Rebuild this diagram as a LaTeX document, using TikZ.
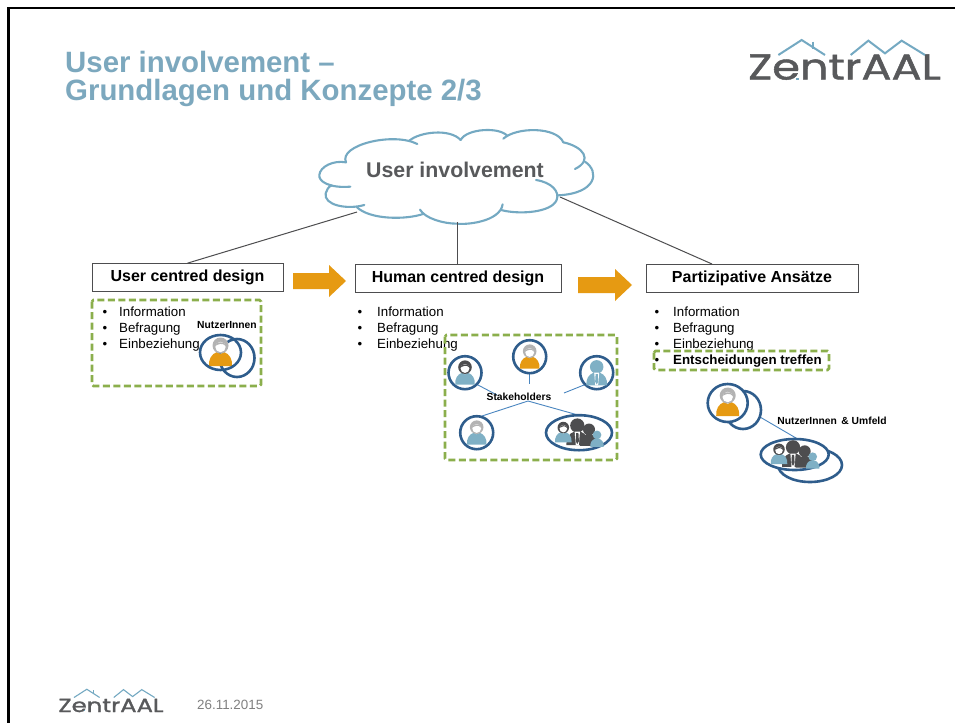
\documentclass[tikz,border=0pt]{standalone}
\usepackage{fontspec}
\setmainfont{Liberation Sans}
\newfontfamily\logofont[FakeBold=1.2]{Poppins}
\definecolor{titleblue}{HTML}{7CA8BE}
\definecolor{cloudblue}{HTML}{74A9C2}
\definecolor{ringblue}{HTML}{2F5D8C}
\definecolor{linkblue}{HTML}{4A86C0}
\definecolor{orangeM}{HTML}{E69A12}
\definecolor{dashgreen}{HTML}{8BAF4C}
\definecolor{headgrey}{HTML}{B3B3B3}
\definecolor{darkgrey}{HTML}{4D4D4F}
\definecolor{bodyblue}{HTML}{7FB0C5}
\definecolor{logogrey}{HTML}{58595B}
\tikzset{
  blackframe/.style={line width=2.6pt,black},
  titletext/.style={anchor=base west,inner sep=0,font=\fontsize{29.4}{30}\selectfont\bfseries,text=titleblue},
  cloudline/.style={cloudblue,line width=2.1pt,line cap=round},
  linkgrey/.style={draw=darkgrey,line width=1pt},
  conceptbox/.style={draw=darkgrey,line width=.7pt,minimum height=28pt,inner sep=0,font=\fontsize{16}{18}\selectfont\bfseries,fill=white},
  bigarrow/.style={fill=orangeM,draw=none},
  bullet/.style={anchor=base,inner sep=0,font=\fontsize{13.2}{15}\selectfont},
  itemtext/.style={anchor=base west,inner sep=0,font=\fontsize{13.3}{15}\selectfont},
  greenbox/.style={draw=dashgreen,line width=2.6pt,dash pattern=on 7pt off 3.5pt,rounded corners=1.5pt},
  ring/.style={draw=ringblue,line width=2.6pt},
  thinlink/.style={linkblue,line width=.9pt},
  smalllabel/.style={inner sep=0,font=\fontsize{10.3}{12}\selectfont\bfseries},
}
% person icon: #1 x, #2 y, #3 scale, #4 body, #5 head ring
\newcommand{\personicon}[5]{%
  \begin{scope}[shift={(#1,#2)},scale=#3]
    \fill[#4] (-11.5,14) .. controls (-12,7) and (-9,2) .. (-3.5,0) -- (0,2) -- (3.5,0) .. controls (9,2) and (12,7) .. (11.5,14) -- cycle;
    \fill[#5] (0,-6.5) circle (8);
    \fill[white] (0,-5) circle (5.2);
    \fill[#5] (-5.2,-6) .. controls (-3,-7.5) and (2,-10) .. (5.2,-6) .. controls (5,-11) and (-5,-11) .. (-5.2,-6) -- cycle;
  \end{scope}}
% solid person: #1 x #2 y #3 scale #4 colour
\newcommand{\solidicon}[4]{%
  \begin{scope}[shift={(#1,#2)},scale=#3]
    \fill[#4] (-11.5,14) .. controls (-12,7) and (-9,2) .. (-3.5,0) -- (3.5,0) .. controls (9,2) and (12,7) .. (11.5,14) -- cycle;
    \fill[#4] (0,-6.5) circle (7.5);
  \end{scope}}
\newcommand{\tieman}[4]{%
  \begin{scope}[shift={(#1,#2)},scale=#3]
    \solidicon{0}{0}{1}{#4}
    \fill[white] (-2.8,0) -- (2.8,0) -- (1.6,14) -- (-1.6,14) -- cycle;
    \fill[#4] (-1.2,1.5) -- (1.2,1.5) -- (1.7,10) -- (0,13) -- (-1.7,10) -- cycle;
  \end{scope}}
\newcommand{\groupicon}[2]{%
  \begin{scope}[shift={(#1,#2)}]
    \tieman{-1.7}{-1}{.95}{darkgrey}
    \solidicon{10}{2}{.8}{darkgrey}
    \solidicon{18}{6}{.58}{bodyblue}
    \personicon{-15.7}{-.5}{.72}{bodyblue}{darkgrey}
  \end{scope}}
% logo marks: #1 x, #2 y of origin, #3 scale, #4 line width
\newcommand{\zlogo}[4]{%
  \begin{scope}[shift={(#1,#2)},x=#3pt,y=-#3pt]
    \draw[cloudblue,line width=#4pt] (145,90) -- (215,45) -- (285,90);
    \draw[cloudblue,line width=#4pt] (250,50) -- (250,72);
    \draw[cloudblue,line width=#4pt] (362,90) -- (415,47) -- (465,85) -- (515,47) -- (585,90);
    \fill[cloudblue] (197,158) rectangle (206,166);
  \end{scope}}
\begin{document}
\begin{tikzpicture}[x=1pt,y=-1pt]
\useasboundingbox (0,0) rectangle (955,723);
\fill[white] (0,0) rectangle (955,723);
\draw[blackframe] (955,8) -- (8.7,8) -- (8.7,723);

\node[titletext] (title1) at (65,72.5) {User involvement –};
\node[titletext] (title2) at (65,100.5) {Grundlagen und Konzepte 2/3};

% logos
\node[inner sep=0,text=logogrey,font=\fontsize{36}{36}\logofont,xscale=1.24,anchor=base] (logotop) at (844.5,79.5) {ZentrAAL};
\zlogo{730}{25}{.3333}{2}
\node[inner sep=0,text=logogrey,font=\fontsize{19}{20}\logofont,xscale=1.28,anchor=base] (logobot) at (111,712) {ZentrAAL};
\zlogo{47.4}{681}{.1833}{1.1}
\node[anchor=base west,inner sep=0,text=gray,font=\fontsize{13.4}{14}\selectfont] (date) at (197,709.5) {26.11.2015};

% cloud
\begin{scope}[shift={(310,125)},x=.3333pt,y=-.3333pt]
  \draw[cloudline] (108,112) .. controls (85,60) and (250,20) .. (322,57);
  \draw[cloudline] (298,47) .. controls (330,20) and (420,10) .. (452,45);
  \draw[cloudline] (452,45) .. controls (470,10) and (570,5) .. (592,33);
  \draw[cloudline] (580,41) .. controls (620,5) and (740,5) .. (760,52);
  \draw[cloudline] (760,52) .. controls (820,65) and (850,105) .. (795,132);
  \draw[cloudline] (825,110) .. controls (870,140) and (860,205) .. (745,211);
  \draw[cloudline] (678,165) .. controls (725,172) and (750,200) .. (740,225) .. controls (725,262) and (630,270) .. (573,255);
  \draw[cloudline] (578,238) .. controls (570,290) and (470,300) .. (440,296) .. controls (400,296) and (345,280) .. (330,254);
  \draw[cloudline] (342,266) .. controls (290,285) and (180,285) .. (140,246);
  \draw[cloudline] (163,240) .. controls (110,255) and (40,240) .. (47,205) .. controls (50,195) and (55,185) .. (65,181);
  \draw[cloudline] (121,185) .. controls (60,190) and (25,170) .. (28,150) .. controls (30,125) and (70,105) .. (108,112);
\end{scope}
\node[inner sep=0,text=logogrey,font=\fontsize{21.3}{24}\selectfont\bfseries] (cloud) at (455,170) {User involvement};
\coordinate (cloudL) at (357,212);
\coordinate (cloudM) at (457,222);
\coordinate (cloudR) at (560,197);

% concept boxes
\node[conceptbox,minimum width=191pt] (ucd) at (187.5,277.5) {User centred design};
\node[conceptbox,minimum width=206pt] (hcd) at (458,278) {Human centred design};
\node[conceptbox,minimum width=212pt] (pa) at (752,278) {Partizipative Ansätze};
\draw[linkgrey] (cloudL) -- (ucd.north);
\draw[linkgrey] (cloudM) -- (cloudM |- hcd.north);
\draw[linkgrey] (cloudR) -- (712,264);

% arrows
\fill[bigarrow] (293,273) -- (329,273) -- (329,265) -- (346,281) -- (329,297) -- (329,289) -- (293,289) -- cycle;
\fill[bigarrow] (578,277) -- (615,277) -- (615,269) -- (632,285) -- (615,301) -- (615,293) -- (578,293) -- cycle;

% lists
\foreach \yy/\tt in {316.5/Information,332.5/Befragung,348.5/Einbeziehung}{
  \node[bullet] at (105,\yy) {•};
  \node[itemtext] at (119,\yy) {\tt};
  \node[bullet] at (360,\yy) {•};
  \node[itemtext] at (377,\yy) {\tt};
  \node[bullet] at (657,\yy) {•};
  \node[itemtext] at (673,\yy) {\tt};
}
\node[bullet] at (657,364.5) {•};
\node[itemtext,font=\fontsize{13.3}{15}\selectfont\bfseries] (ent) at (673,364.5) {Entscheidungen treffen};

% green boxes
\draw[greenbox] (92,300) rectangle (261,386);
\draw[greenbox] (445,335) rectangle (617,460);
\draw[greenbox] (654,351) rectangle (829,370);

% users left
\node[smalllabel] (lnutzer) at (227,325) {NutzerInnen};
\draw[ring] (237,358) ellipse (17.5 and 19);
\personicon{220.5}{352}{1}{orangeM}{headgrey}
\draw[ring,fill=none] (220.5,352.5) ellipse (20.5 and 17.5);

% stakeholders
\draw[thinlink] (478,385) -- (497,395);
\draw[thinlink] (529.7,373) -- (529.7,384);
\draw[thinlink] (584,385) -- (564,393);
\draw[thinlink] (482,416) -- (528,401) -- (578,415);
\node[smalllabel] (stake) at (519,397) {Stakeholders};
\node[ring,circle,minimum size=33pt,inner sep=0] (p1) at (465,372.7) {};
\node[ring,circle,minimum size=33pt,inner sep=0] (p2) at (529.7,356.7) {};
\node[ring,circle,minimum size=33pt,inner sep=0] (p3) at (596.7,372.7) {};
\node[ring,circle,minimum size=33pt,inner sep=0] (p4) at (476.7,432.7) {};
\personicon{465}{372.7}{.85}{bodyblue}{darkgrey}
\personicon{529.7}{356.7}{.85}{orangeM}{headgrey}
\tieman{596.7}{372.7}{.9}{bodyblue}
\personicon{476.7}{432.7}{.85}{bodyblue}{headgrey}
\draw[ring] (579,432.7) ellipse (33 and 17.5);
\groupicon{579}{432.7}

% right group
\draw[thinlink] (760,417) -- (796,438);
\node[smalllabel] (rnutzer) at (832,421) {NutzerInnen \,\& Umfeld};
\draw[ring] (743,410) ellipse (18 and 19);
\draw[ring,fill=white] (727.7,403) ellipse (20 and 19);
\personicon{727.7}{402}{1}{orangeM}{headgrey}
\draw[ring] (810,465) ellipse (32 and 17);
\draw[ring,fill=white] (794.7,454.5) ellipse (34 and 15.5);
\groupicon{794.7}{454.5}
\end{tikzpicture}
\end{document}
